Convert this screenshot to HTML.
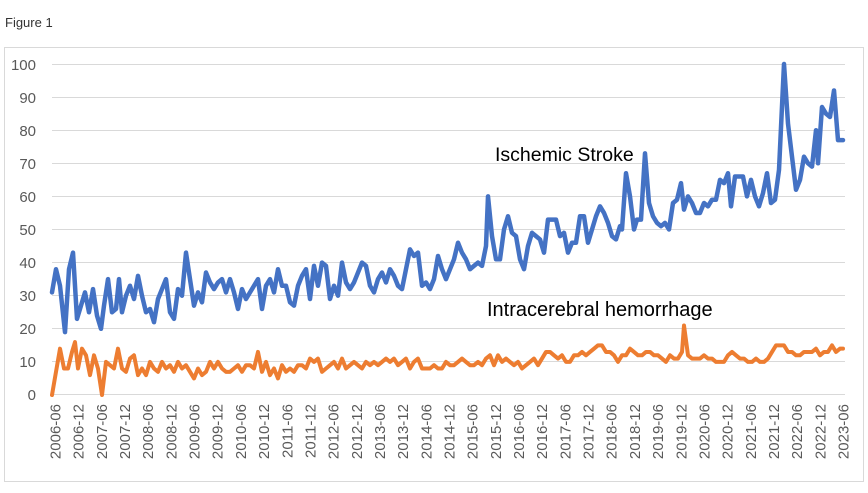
<!DOCTYPE html>
<html><head><meta charset="utf-8"><style>
html,body{margin:0;padding:0;background:#fff;width:868px;height:493px;overflow:hidden;font-family:"Liberation Sans",sans-serif}
</style></head><body>
<svg width="868" height="493" xmlns="http://www.w3.org/2000/svg" font-family="Liberation Sans, sans-serif">
<text x="5" y="27" font-size="13" fill="#333">Figure 1</text>
<rect x="4.5" y="47.5" width="859" height="434" fill="#fff" stroke="#d9d9d9"/>
<g stroke="#d9d9d9" stroke-width="1">
<line x1="52" x2="845" y1="64.5" y2="64.5"/><line x1="52" x2="845" y1="97.5" y2="97.5"/>
<line x1="52" x2="845" y1="130.5" y2="130.5"/><line x1="52" x2="845" y1="163.5" y2="163.5"/>
<line x1="52" x2="845" y1="196.5" y2="196.5"/><line x1="52" x2="845" y1="229.5" y2="229.5"/>
<line x1="52" x2="845" y1="262.5" y2="262.5"/><line x1="52" x2="845" y1="295.5" y2="295.5"/>
<line x1="52" x2="845" y1="328.5" y2="328.5"/><line x1="52" x2="845" y1="361.5" y2="361.5"/>
<line x1="52" x2="845" y1="394.5" y2="394.5"/>
</g>
<g font-size="15" fill="#595959" text-anchor="end">
<text x="36" y="70">100</text><text x="36" y="103">90</text><text x="36" y="136">80</text>
<text x="36" y="169">70</text><text x="36" y="202">60</text><text x="36" y="235">50</text>
<text x="36" y="268">40</text><text x="36" y="301">30</text><text x="36" y="334">20</text>
<text x="36" y="367">10</text><text x="36" y="400">0</text>
</g>
<g id="xl" font-size="15" fill="#595959" text-anchor="end"></g>
<g transform="translate(0,395) scale(1,-3.31)" fill="none" stroke-linejoin="round" stroke-linecap="round">
<polyline id="b" stroke="#4472c4" stroke-width="4.5" vector-effect="non-scaling-stroke" points=""/>
<polyline id="o" stroke="#ed7d31" stroke-width="4" vector-effect="non-scaling-stroke" points=""/>
</g>
<text x="495" y="161" font-size="19.5" fill="#000">Ischemic Stroke</text>
<text x="487" y="316" font-size="20" fill="#000">Intracerebral hemorrhage</text>
</svg>
<script>
var B=[52,31,56,38,60,33,65,19,69,38,73,43,77,23,81,27,85,31,89,25,93,32,97,24,101,20,104,27,108,35,112,25,116,26,119,35,122,25,126,30,130,33,134,29,138,36,142,30,146,25,150,26,154,22,158,29,162,32,166,35,170,25,174,23,178,32,182,30,186,43,190,35,194,27,198,31,202,28,206,37,210,34,214,32,218,34,222,35,226,31,230,35,234,31,238,26,242,32,246,29,250,31,254,33,258,35,262,26,266,33,270,35,274,31,278,38,282,33,286,33,290,28,294,27,298,33,302,36,306,38,310,29,314,39,318,33,322,40,326,39,330,29,334,33,338,30,342,40,346,34,350,32,354,34,358,37,362,40,366,39,370,33,374,31,378,35,382,37,386,34,390,38,394,36,398,33,402,32,406,38,410,44,414,42,418,43,422,33,426,34,430,32,434,35,438,42,442,38,446,35,450,38,454,41,458,46,462,43,466,41,470,38,474,39,478,40,482,39,486,45,488,60,492,48,496,41,500,41,504,50,508,54,512,49,516,48,520,41,524,38,528,45,532,49,536,48,540,47,544,43,548,53,552,53,556,53,560,48,564,49,568,43,572,46,576,46,580,54,584,54,588,46,592,50,596,54,600,57,604,55,608,52,612,48,616,47,620,51,622,50,626,67,630,60,634,50,637,53,641,53,645,73,649,58,653,54,657,52,661,51,665,52,669,50,673,58,677,59,681,64,684,56,688,60,692,58,696,55,700,55,704,58,708,57,712,59,716,59,720,65,724,64,728,67,731,57,735,66,739,66,743,66,747,60,751,65,755,60,759,57,763,61,767,67,771,58,775,59,779,68,784,100,788,82,792,72,796,62,800,65,804,72,808,70,812,69,816,80,818,70,822,87,826,85,830,84,834,92,838,77,843,77];
var O=[52,0,56,7,60,14,64,8,68,8,72,13,75,16,78,8,82,14,86,12,90,6,94,12,98,8,102,0,106,10,110,9,114,8,118,14,122,8,126,7,130,11,134,12,138,6,142,8,146,6,150,10,154,8,158,7,162,10,166,8,170,9,174,7,178,10,182,8,186,9,190,7,194,5,198,8,202,6,206,7,210,10,214,8,218,10,222,8,226,7,230,7,234,8,238,9,242,7,246,9,250,9,254,8,258,13,262,7,266,10,270,6,274,8,278,5,282,9,286,7,290,8,294,7,298,9,302,9,306,8,310,11,314,10,318,11,322,7,326,8,330,9,334,10,338,8,342,11,346,8,350,9,354,10,358,9,362,8,366,10,370,9,374,10,378,9,382,10,386,11,390,10,394,11,398,9,402,10,406,11,410,8,414,10,418,11,422,8,426,8,430,8,434,9,438,8,442,8,446,10,450,9,454,9,458,10,462,11,466,10,470,9,474,9,478,10,482,9,486,11,490,12,494,9,498,12,502,10,506,11,510,10,514,9,518,10,522,8,526,9,530,10,534,11,538,9,542,11,546,13,550,13,554,12,558,11,562,12,566,10,570,10,574,12,578,12,582,13,586,12,590,13,594,14,598,15,602,15,606,13,610,13,614,12,618,10,622,12,626,12,630,14,634,13,638,12,642,12,646,13,650,13,654,12,658,12,662,11,666,10,670,12,674,11,678,11,682,13,684,21,688,12,692,11,696,11,700,11,704,12,708,11,712,11,716,10,720,10,724,10,728,12,732,13,736,12,740,11,744,11,748,10,752,10,756,11,760,10,764,10,768,11,772,13,776,15,780,15,784,15,788,13,792,13,796,12,800,12,804,13,808,13,812,13,816,14,820,12,824,13,828,13,832,15,836,13,840,14,843,14];
function pts(a){var s=[];for(var i=0;i<a.length;i+=2)s.push(a[i]+","+a[i+1]);return s.join(" ");}
document.getElementById("b").setAttribute("points",pts(B));
document.getElementById("o").setAttribute("points",pts(O));
var g=document.getElementById("xl"),ns="http://www.w3.org/2000/svg";
for(var i=0;i<35;i++){var y=2006+Math.floor(i/2),m=(i%2==0)?"06":"12";
var x=55+i*(843-55)/34;var t=document.createElementNS(ns,"text");
t.setAttribute("transform","translate("+(x+5.5)+",404) rotate(-90)");t.textContent=y+"-"+m;g.appendChild(t);}
</script>
</body></html>
